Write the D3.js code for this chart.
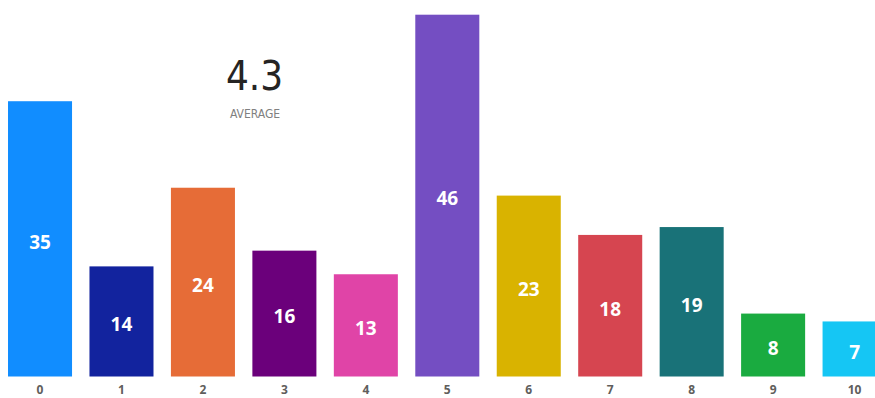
<!DOCTYPE html>
<html>
<head>
<meta charset="utf-8">
<script src="https://cdn.jsdelivr.net/npm/d3@7"></script>
<style>
  html, body { margin: 0; padding: 0; background: #fff; overflow: hidden; }
  svg { display: block; }
</style>
</head>
<body>
<svg id="chart" width="875" height="398"></svg>
<script>
// Score buckets and response counts
const categories = ["0", "1", "2", "3", "4", "5", "6", "7", "8", "9", "10"];
const counts = [35, 14, 24, 16, 13, 46, 23, 18, 19, 8, 7];
const barColors = ["#118DFF", "#12239E", "#E66C37", "#6B007B", "#E044A7", "#744EC2",
                   "#D9B300", "#D64550", "#197278", "#1AAB40", "#15C6F4"];
const averageValue = "4.3";
const averageLabel = "AVERAGE";

const svg = d3.select("#chart");
const baseline = 376.5;

const x = d3.scaleBand()
  .domain(categories)
  .range([-0.7, 895.3])
  .paddingInner(0.214)
  .paddingOuter(0.107);

const y = d3.scaleLinear()
  .domain([0, 46])
  .range([baseline, 14.7]);

const bars = svg.append("g");
bars.selectAll("rect")
  .data(categories)
  .join("rect")
  .attr("x", d => x(d))
  .attr("y", (d, i) => y(counts[i]))
  .attr("width", x.bandwidth())
  .attr("height", (d, i) => baseline - y(counts[i]))
  .attr("fill", (d, i) => barColors[i]);

// Value labels centred inside each bar
bars.selectAll("text")
  .data(categories)
  .join("text")
  .attr("x", d => x(d) + x.bandwidth() / 2)
  .attr("y", (d, i) => (y(counts[i]) + baseline) / 2 + 3)
  .attr("dy", "0.36em")
  .attr("text-anchor", "middle")
  .attr("fill", "#fff")
  .attr("font-family", "'Open Sans', sans-serif")
  .attr("font-weight", 700)
  .attr("font-size", "19px")
  .text((d, i) => counts[i]);

// Category axis
const axis = svg.append("g")
  .attr("transform", `translate(0,${baseline})`)
  .call(d3.axisBottom(x).tickSize(0).tickPadding(9));
axis.select(".domain").remove();
axis.selectAll("text")
  .attr("fill", "#605E5C")
  .attr("font-family", "'Open Sans', sans-serif")
  .attr("font-weight", 700)
  .attr("font-size", "12px");

// Average card
svg.append("text")
  .attr("x", 254.5)
  .attr("y", 90)
  .attr("text-anchor", "middle")
  .attr("fill", "#252423")
  .attr("font-family", "'DejaVu Sans Condensed', 'DejaVu Sans', sans-serif")
  .attr("font-weight", 300)
  .attr("font-size", "40px")
  .text(averageValue);

svg.append("text")
  .attr("x", 255)
  .attr("y", 118)
  .attr("text-anchor", "middle")
  .attr("fill", "#808080")
  .attr("font-family", "'Liberation Sans Narrow', 'DejaVu Sans Condensed', sans-serif")
  .attr("font-size", "12px")
  .text(averageLabel);
</script>
</body>
</html>
